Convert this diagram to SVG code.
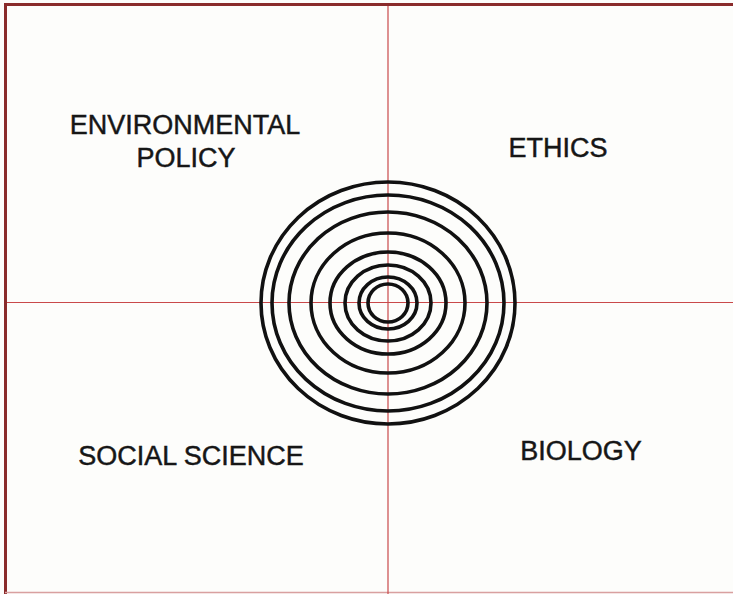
<svg xmlns="http://www.w3.org/2000/svg" width="733" height="594" viewBox="0 0 733 594">
  <style>
    .label { font-family: "Liberation Sans", Arial, sans-serif; font-size: 27px; fill: #161616; stroke: #161616; stroke-width: 0.45; text-anchor: middle; }
    .axis { stroke: #c9494a; stroke-width: 1.2; fill: none; }
    .ring { stroke: #111; stroke-width: 3.6; fill: none; }
    .frame { stroke: #8a2b2b; stroke-width: 3; fill: none; }
  </style>
  <rect x="0" y="0" width="733" height="594" fill="#fdfdfb"/>

  <!-- outer frame -->
  <g id="frame">
    <line class="frame" x1="5.5" y1="3" x2="5.5" y2="594"/>
    <line class="frame" x1="4" y1="4.5" x2="733" y2="4.5"/>
    <line x1="5" y1="592.5" x2="733" y2="592.5" stroke="#d9a0a0" stroke-width="1.5"/>
  </g>

  <!-- quadrant axes -->
  <g id="axes">
    <line class="axis" x1="388" y1="6" x2="388" y2="594"/>
    <line class="axis" x1="7" y1="302.5" x2="733" y2="302.5"/>
  </g>

  <!-- concentric target -->
  <g id="target">
    <ellipse class="ring" cx="388" cy="303" rx="127" ry="121"/>
    <ellipse class="ring" cx="388" cy="303" rx="116" ry="108"/>
    <ellipse class="ring" cx="388" cy="303" rx="99" ry="91"/>
    <ellipse class="ring" cx="388" cy="303" rx="77" ry="70"/>
    <ellipse class="ring" cx="388" cy="303" rx="58" ry="51"/>
    <ellipse class="ring" cx="388" cy="303" rx="43" ry="38"/>
    <ellipse class="ring" cx="388" cy="303" rx="29" ry="26"/>
    <ellipse class="ring" cx="388" cy="303" rx="20" ry="19"/>
  </g>

  <g id="environmental-policy">
    <text class="label" x="185" y="134">ENVIRONMENTAL</text>
    <text class="label" x="186" y="167">POLICY</text>
  </g>
  <g id="ethics">
    <text class="label" x="558" y="157">ETHICS</text>
  </g>
  <g id="social-science">
    <text class="label" x="191" y="465">SOCIAL SCIENCE</text>
  </g>
  <g id="biology">
    <text class="label" x="581" y="460">BIOLOGY</text>
  </g>
</svg>
